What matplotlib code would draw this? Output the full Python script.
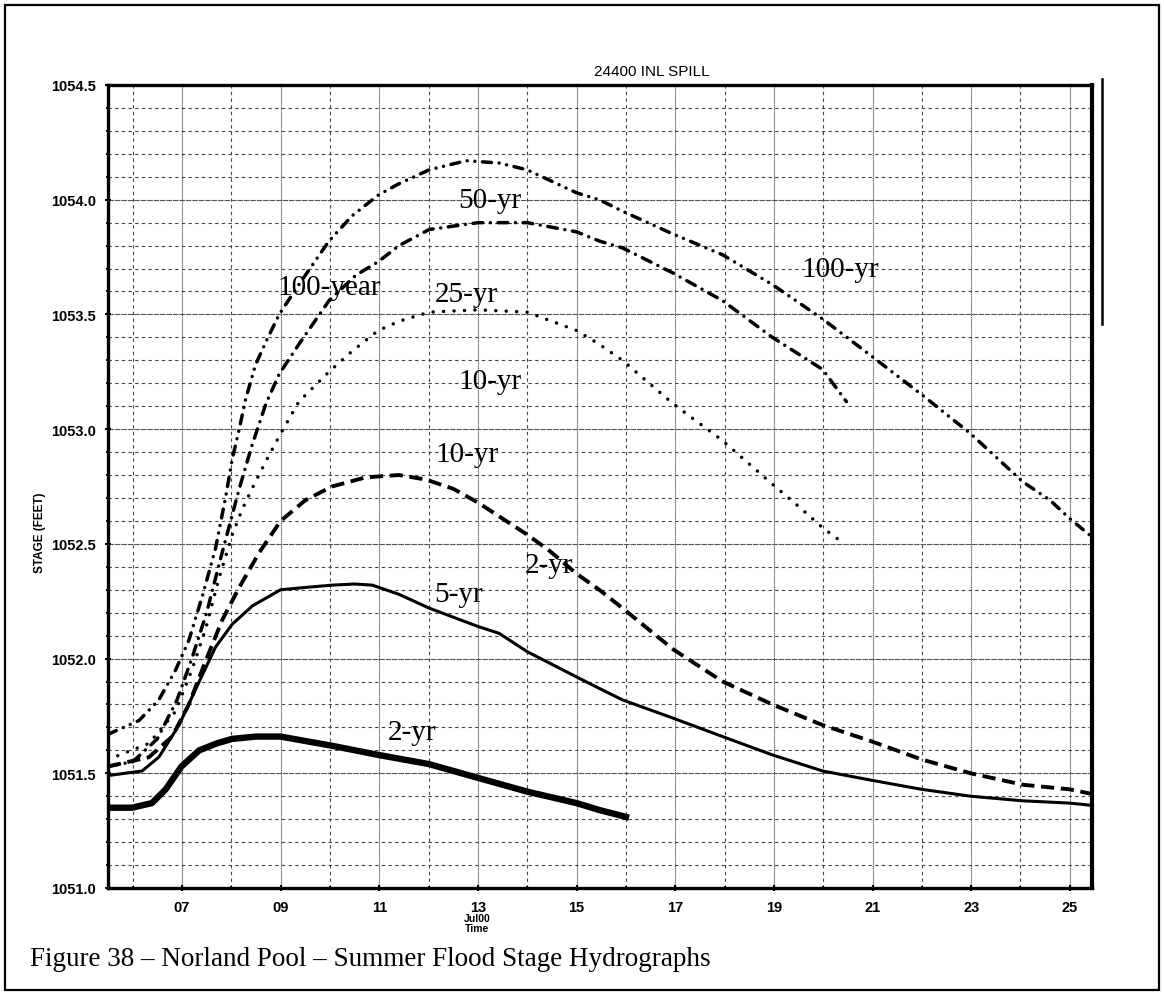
import matplotlib
matplotlib.use('Agg')
import matplotlib.pyplot as plt
from matplotlib.ticker import MultipleLocator, FixedLocator
from matplotlib.lines import Line2D
from matplotlib.patches import Rectangle

day_100 = [5.5, 6.13, 6.53, 6.87, 7.14, 7.41, 7.68, 7.89, 8.02, 8.16, 8.29, 8.49, 8.7, 8.97, 9.37,
           9.98, 10.45, 10.98, 11.4, 12.01, 12.76, 13.43, 14.0, 15.0, 15.46, 15.93, 16.96, 17.96,
           18.97, 19.99, 20.97, 22.0, 22.99, 24.05, 24.6, 25.0, 25.45]
stage_100 = [1051.67, 1051.73, 1051.82, 1051.95, 1052.08, 1052.27, 1052.48, 1052.71, 1052.87, 1053.00,
             1053.13, 1053.28, 1053.38, 1053.50, 1053.63, 1053.82, 1053.93, 1054.02, 1054.07, 1054.13,
             1054.17, 1054.16, 1054.13, 1054.03, 1054.00, 1053.95, 1053.85, 1053.76, 1053.63, 1053.48,
             1053.32, 1053.15, 1052.98, 1052.77, 1052.69, 1052.61, 1052.53]

day_50 = [5.5, 6.0, 6.5, 6.9, 7.2, 7.5, 7.8, 8.16, 8.42, 8.7, 8.97, 9.37, 9.98, 10.52, 10.98, 11.4,
          12.01, 13.0, 14.0, 15.0, 15.46, 15.93, 16.96, 17.96, 18.97, 19.99, 20.47]
stage_50 = [1051.53, 1051.55, 1051.65, 1051.82, 1052.0, 1052.2, 1052.45, 1052.74, 1052.93, 1053.11,
            1053.24, 1053.37, 1053.56, 1053.67, 1053.73, 1053.80, 1053.87, 1053.90, 1053.90, 1053.86,
            1053.82, 1053.79, 1053.68, 1053.56, 1053.40, 1053.26, 1053.12]

day_25 = [5.5, 6.33, 6.87, 7.2, 7.48, 7.75, 8.02, 8.22, 8.42, 8.7, 9.0, 9.37, 9.98, 10.45, 10.98,
          11.4, 12.01, 13.0, 14.0, 15.0, 15.46, 15.93, 16.96, 17.96, 18.97, 19.52, 19.99, 20.43]
stage_25 = [1051.56, 1051.63, 1051.77, 1051.95, 1052.13, 1052.35, 1052.54, 1052.65, 1052.74, 1052.86,
            1052.98, 1053.12, 1053.25, 1053.34, 1053.43, 1053.47, 1053.51, 1053.52, 1053.51, 1053.43,
            1053.37, 1053.30, 1053.11, 1052.95, 1052.76, 1052.66, 1052.57, 1052.50]

day_10 = [5.5, 6.33, 6.8, 7.14, 7.48, 7.82, 8.16, 8.56, 9.0, 9.5, 10.04, 10.73, 11.4, 11.95, 12.5,
          13.0, 13.5, 14.0, 14.45, 15.0, 15.46, 15.93, 16.96, 17.96, 18.97, 19.99, 20.97, 22.0,
          22.99, 24.05, 25.0, 25.45]
stage_10 = [1051.53, 1051.57, 1051.66, 1051.80, 1051.99, 1052.17, 1052.31, 1052.46, 1052.60, 1052.69,
            1052.75, 1052.79, 1052.80, 1052.78, 1052.74, 1052.68, 1052.61, 1052.54, 1052.47, 1052.37,
            1052.30, 1052.22, 1052.04, 1051.90, 1051.80, 1051.71, 1051.64, 1051.56, 1051.50, 1051.45,
            1051.43, 1051.41]

day_5 = [5.5, 6.19, 6.53, 6.94, 7.35, 7.68, 8.02, 8.43, 9.0, 9.5, 10.04, 10.5, 10.86, 11.4, 12.01,
         13.0, 13.43, 14.0, 15.0, 15.46, 15.93, 16.96, 17.96, 18.97, 19.99, 20.97, 22.0, 22.99,
         24.05, 25.0, 25.45]
stage_5 = [1051.49, 1051.51, 1051.57, 1051.71, 1051.90, 1052.05, 1052.15, 1052.23, 1052.30, 1052.31,
           1052.32, 1052.325, 1052.32, 1052.28, 1052.22, 1052.14, 1052.11, 1052.03, 1051.92, 1051.87,
           1051.82, 1051.74, 1051.66, 1051.58, 1051.51, 1051.47, 1051.43, 1051.40, 1051.38, 1051.37,
           1051.36]

day_2 = [5.5, 5.99, 6.39, 6.67, 6.99, 7.35, 7.7, 8.02, 8.5, 9.0, 10.04, 10.98, 12.01, 13.0, 14.0,
         15.0, 15.46, 16.0]
stage_2 = [1051.35, 1051.35, 1051.37, 1051.43, 1051.53, 1051.60, 1051.63, 1051.65, 1051.66, 1051.66,
           1051.62, 1051.58, 1051.54, 1051.48, 1051.42, 1051.37, 1051.34, 1051.31]

tick_days = [7, 9, 11, 13, 15, 17, 19, 21, 23, 25]
tick_labels = ['07', '09', '11', '13', '15', '17', '19', '21', '23', '25']

curve_labels = ['50-yr', '100-year', '25-yr', '10-yr', '10-yr', '100-yr', '2-yr', '5-yr', '2-yr']
label_x = [13.23, 9.98, 12.76, 13.25, 12.78, 20.35, 14.45, 12.6, 11.67]
label_y = [1054.0, 1053.62, 1053.59, 1053.21, 1052.89, 1053.70, 1052.41, 1052.28, 1051.68]

W, H = 1164, 995
fig = plt.figure(figsize=(W / 100, H / 100), dpi=100)
ax = fig.add_axes([108 / W, 1 - 889 / H, (1092 - 108) / W, (889 - 86) / H])

# grid
ax.set_xlim(5.5, 25.45)
ax.set_ylim(1051.0, 1054.5)
ax.xaxis.set_major_locator(FixedLocator(tick_days))
ax.xaxis.set_minor_locator(MultipleLocator(1))
ax.yaxis.set_major_locator(MultipleLocator(0.5))
ax.yaxis.set_minor_locator(MultipleLocator(0.1))
ax.set_xticklabels(tick_labels)
ax.grid(which='major', axis='x', color='#555555', lw=0.8, ls=(0, (1, 0.6)))
ax.grid(which='minor', axis='x', color='#444444', lw=0.8, ls=(0, (3, 3)))
ax.grid(which='major', axis='y', color='#555555', lw=0.8, ls=(0, (5, 0.8)))
ax.grid(which='minor', axis='y', color='#444444', lw=0.8, ls=(0, (3, 3)))
ax.set_axisbelow(True)

for s in ['left', 'bottom', 'top']:
    ax.spines[s].set_linewidth(2.4)
ax.spines['right'].set_linewidth(3.0)
ax.tick_params(which='major', direction='inout', length=5, width=1.5,
               labelsize=10.5, pad=6)
ax.tick_params(which='minor', direction='inout', length=3, width=1.3)
for t in ax.get_xticklabels() + ax.get_yticklabels():
    t.set_fontfamily('Liberation Sans')
    t.set_fontweight('bold')

# hydrographs
ax.plot(day_100, stage_100, color='black', lw=2.5, dashes=(2.6, 2.2, 0.01, 2.2, 0.01, 2.2),
        dash_capstyle='round')
ax.plot(day_50, stage_50, color='black', lw=2.5, dashes=(2.8, 2.2, 0.01, 2.2),
        dash_capstyle='round')
ax.plot(day_25, stage_25, color='black', lw=2.5, dashes=(0.01, 3.0), dash_capstyle='round')
ax.plot(day_10, stage_10, color='black', lw=2.8, dashes=(3.4, 1.7))
ax.plot(day_5, stage_5, color='black', lw=2.2)
ax.plot(day_2, stage_2, color='black', lw=4.6)

for txt, lx, ly in zip(curve_labels, label_x, label_y):
    ax.text(lx, ly, txt, fontsize=21, family='Liberation Serif', ha='center', va='center')

fig.text(652 / W, 1 - 72 / H, '24400 INL SPILL', fontsize=11, family='Liberation Sans',
         ha='center', va='center')
fig.text(40 / W, 1 - 533 / H, 'STAGE (FEET)', fontsize=8.5, family='Liberation Sans',
         fontweight='bold', rotation=90, ha='center', va='center')
fig.text(477 / W, 1 - 919 / H, 'Jul00', fontsize=7.5, family='Liberation Sans',
         fontweight='bold', ha='center', va='center')
fig.text(477 / W, 1 - 929 / H, 'Time', fontsize=7.5, family='Liberation Sans',
         fontweight='bold', ha='center', va='center')
fig.text(30 / W, 1 - 960 / H, 'Figure 38 \u2013 Norland Pool \u2013 Summer Flood Stage Hydrographs',
         fontsize=19.5, family='Liberation Serif', ha='left', va='center')

# scanned page frame and the stray rule at the right
fig.patches.append(Rectangle((5 / W, 4 / H), (W - 10) / W, (H - 10) / H, transform=fig.transFigure,
                             fill=False, lw=1.6, ec='black'))
fig.lines.append(Line2D([1102 / W, 1102 / W], [1 - 80 / H, 1 - 325 / H], transform=fig.transFigure,
                        color='black', lw=1.8))

fig.savefig('out.png', dpi=100)
